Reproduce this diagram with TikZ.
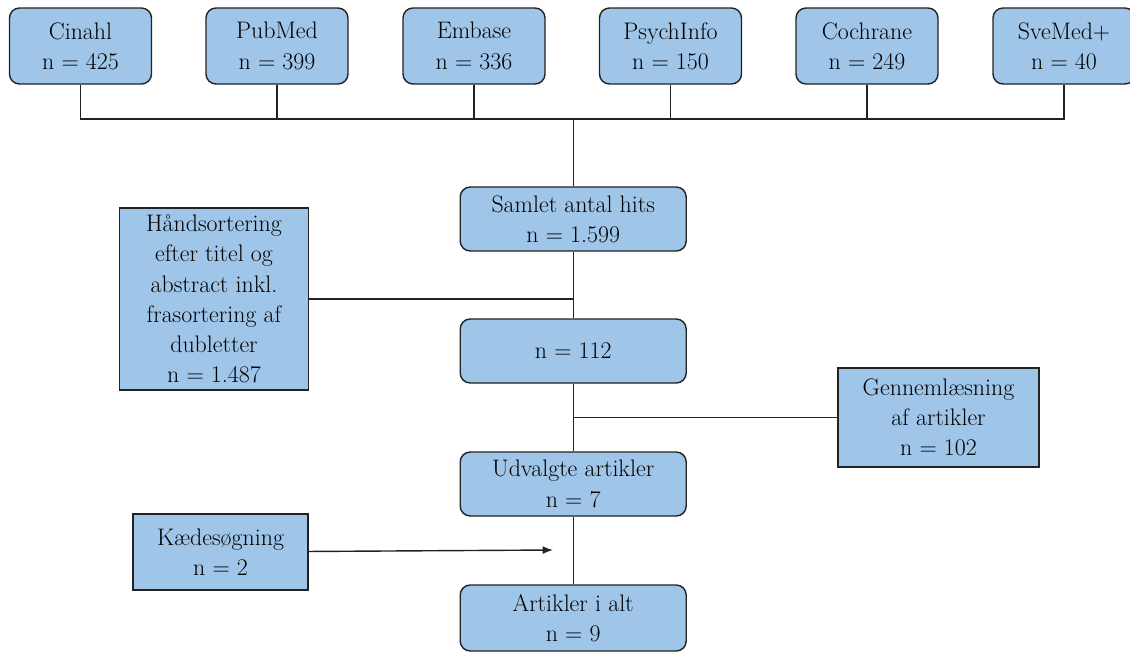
\documentclass[tikz,border=0pt]{standalone}
\usepackage{tikz}
\usetikzlibrary{arrows,arrows.meta}
\definecolor{boxblue}{HTML}{9FC5E8}
\definecolor{boxline}{HTML}{222222}
\tikzset{
  dbbox/.style={rectangle, rounded corners=0.25cm, draw=boxline, fill=boxblue, line width=1pt,
    minimum width=3.55cm, minimum height=1.9cm, inner sep=0pt, align=center,
    font=\fontsize{17}{21.5}\selectfont},
  mainbox/.style={dbbox, minimum width=5.65cm, minimum height=1.6cm},
  sidebox/.style={rectangle, draw=boxline, fill=boxblue, line width=1pt, inner sep=0pt,
    align=center, font=\fontsize{17}{21.5}\selectfont},
  link/.style={line width=1pt, draw=boxline}
}

\begin{document}
\begin{tikzpicture}

\useasboundingbox (0,0) rectangle (28.25,-16.3);

\node[dbbox] (D1) at (2.0125,-1.15) {Cinahl\\n = 425};
\node[dbbox] (D2) at (6.925,-1.15) {PubMed\\n = 399};
\node[dbbox] (D3) at (11.85,-1.15) {Embase\\n = 336};
\node[dbbox] (D4) at (16.7625,-1.15) {PsychInfo\\n = 150};
\node[dbbox] (D5) at (21.675,-1.15) {Cochrane\\n = 249};
\node[dbbox] (D6) at (26.6,-1.15) {SveMed+\\n = 40};
\coordinate (J) at (14.33,-2.975);

\node[mainbox] (S1) at (14.33,-5.475) {Samlet antal hits\\n = 1.599};
\node[mainbox] (M1) at (14.33,-8.775) {n = 112};
\node[mainbox] (U1) at (14.33,-12.1) {Udvalgte artikler\\n = 7};
\node[mainbox, minimum height=1.65cm] (A1) at (14.33,-15.45) {Artikler i alt\\n = 9};

\node[sidebox, minimum width=4.725cm, minimum height=4.55cm] (H1) at (5.35,-7.475)
  {Håndsortering\\efter titel og\\abstract inkl.\\frasortering af\\dubletter\\n = 1.487};
\node[sidebox, minimum width=5.025cm, minimum height=2.475cm] (G1) at (23.4625,-10.4375)
  {Gennemlæsning\\af artikler\\n = 102};
\node[sidebox, minimum width=4.375cm, minimum height=1.9cm] (K1) at (5.5125,-13.8)
  {Kædesøgning\\n = 2};
\coordinate (KE) at (13.825,-13.75);

\draw[link] (D1) |- (J);
\draw[link] (D2) |- (J);
\draw[link] (D3) |- (J);
\draw[link] (D4) |- (J);
\draw[link] (D5) |- (J);
\draw[link] (D6) |- (J);
\draw[link] (J) -- (S1);
\draw[link] (S1) -- (M1);
\draw[link] (M1) -- (U1);
\draw[link] (U1) -- (A1);
\draw[link] (H1) -- (H1 -| S1);
\draw[link] (G1) -- (G1 -| M1);
\draw[link, -{Latex[length=2.6mm,width=2mm]}] (K1) -- (KE);

\end{tikzpicture}
\end{document}
